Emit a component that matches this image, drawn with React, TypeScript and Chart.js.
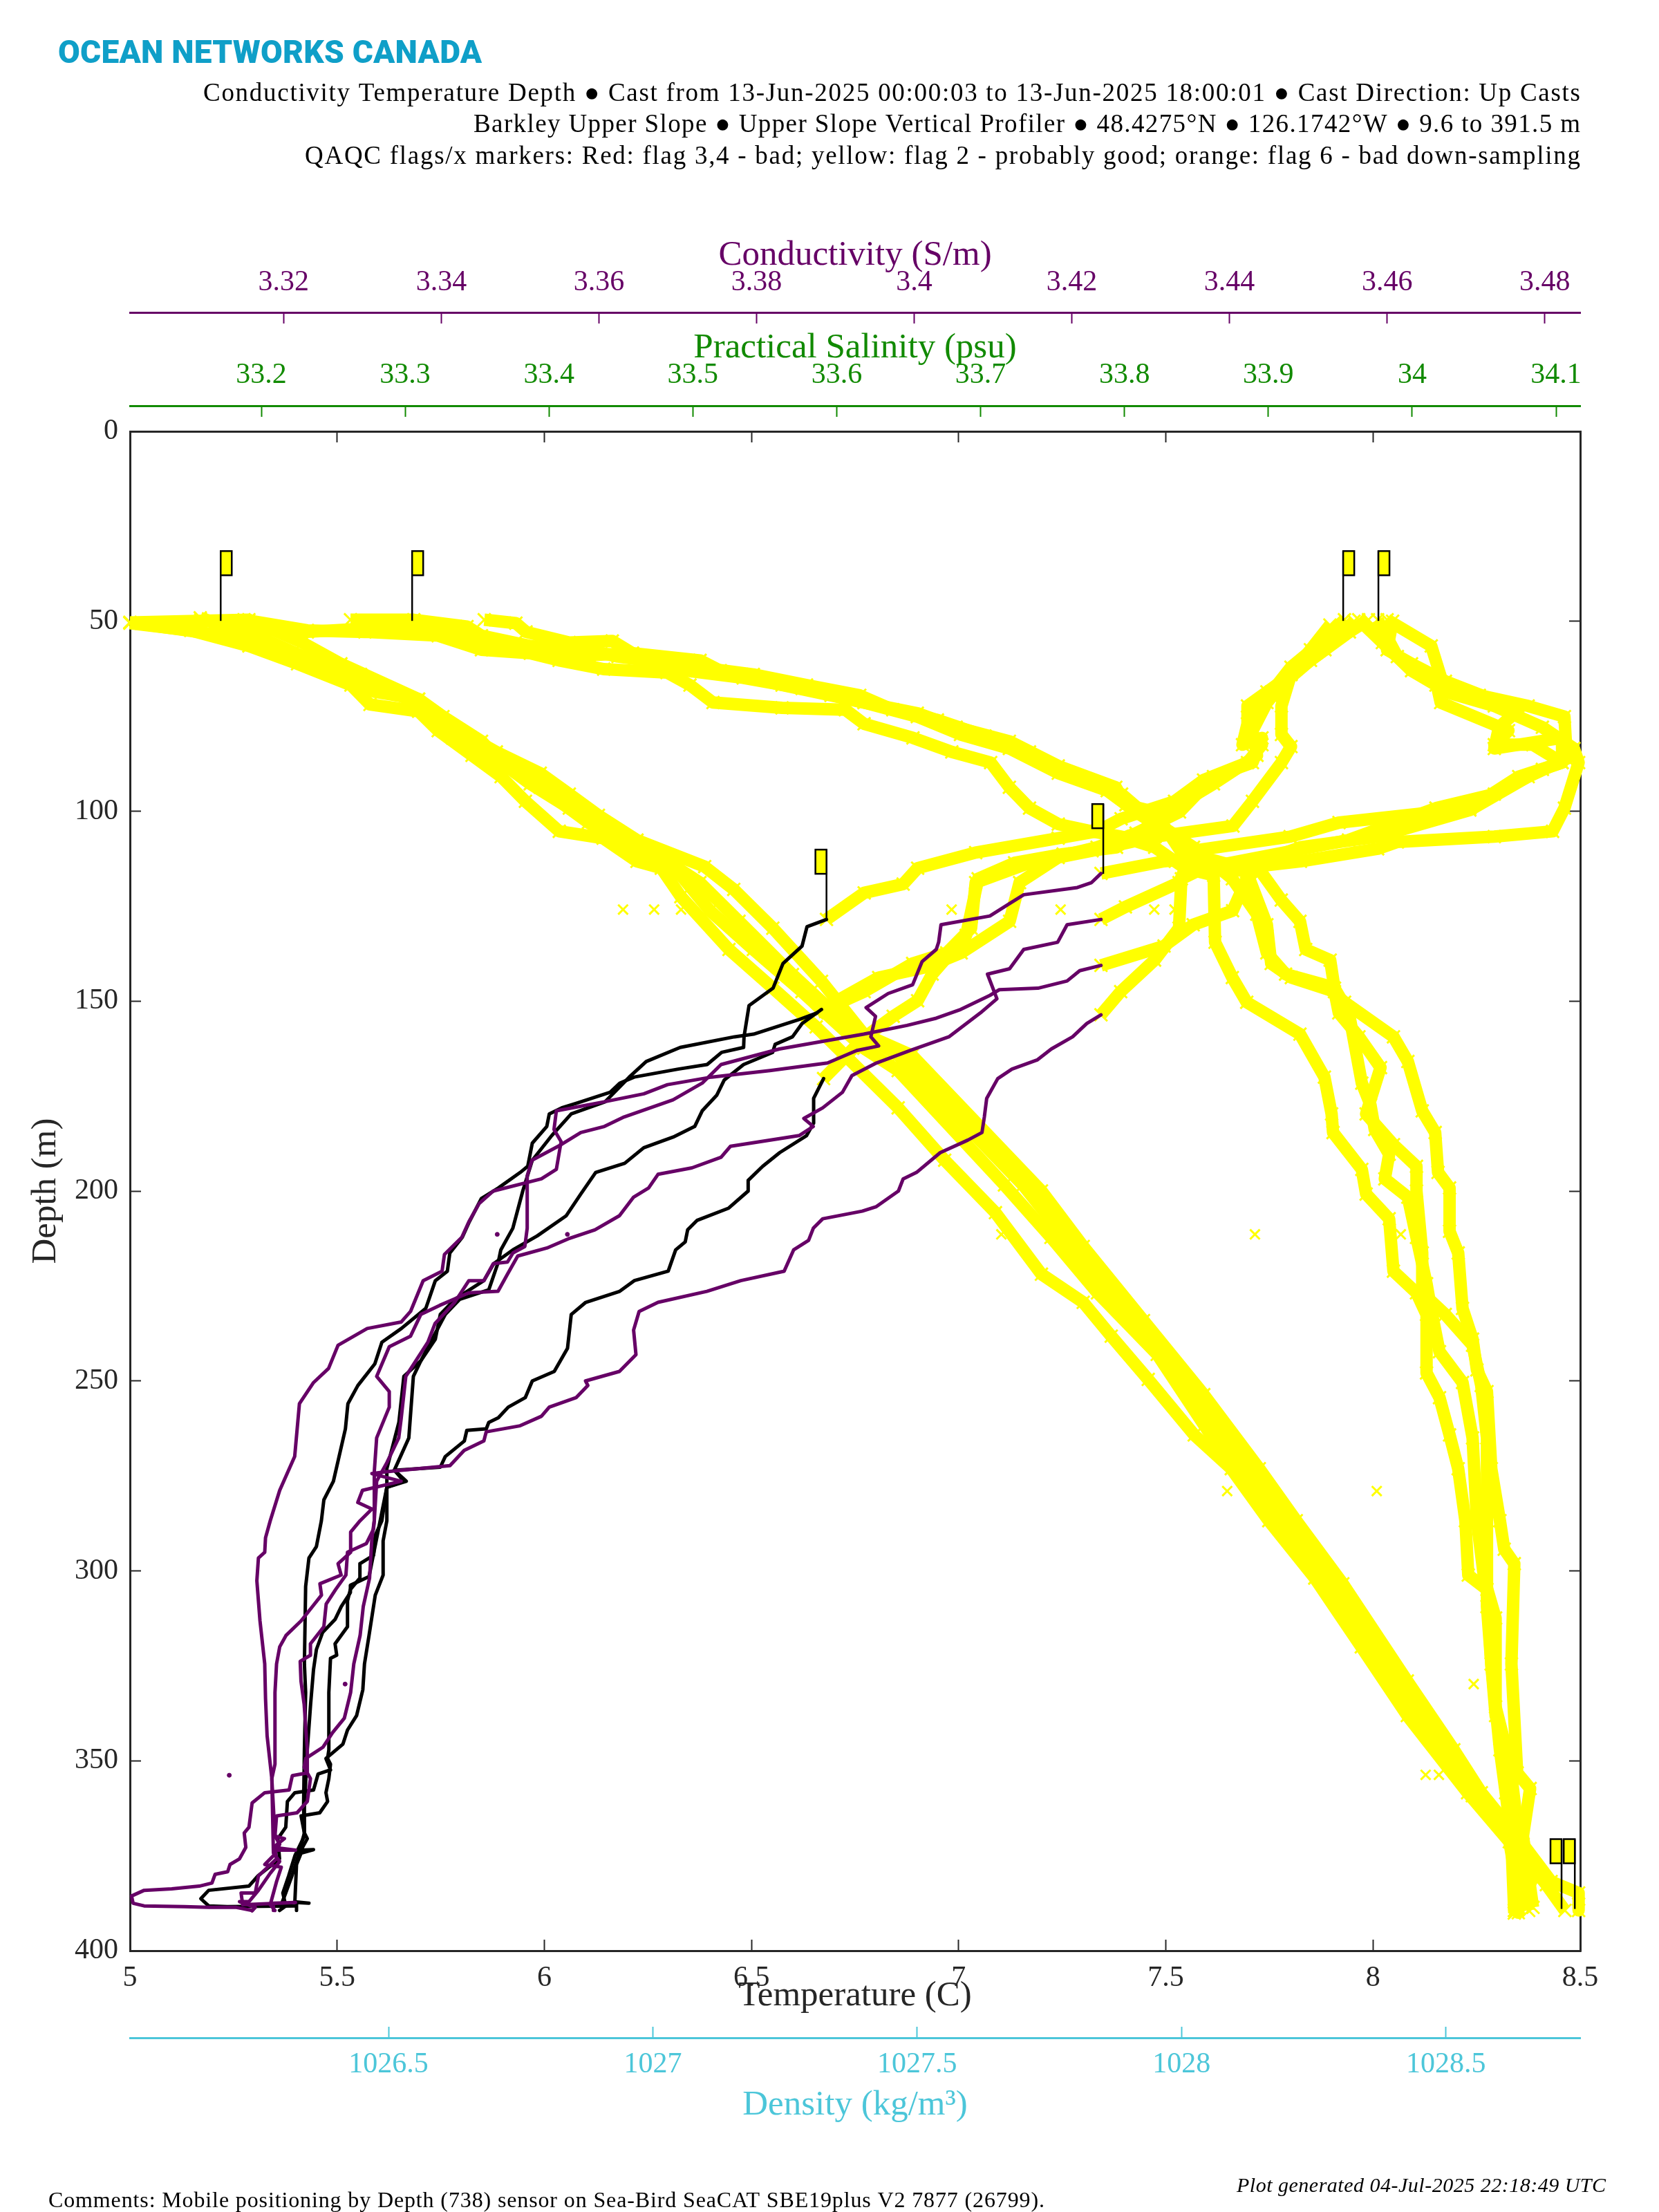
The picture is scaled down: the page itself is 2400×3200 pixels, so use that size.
import React, { useEffect, useRef } from "react";
import { Chart, registerables } from "chart.js";

Chart.register(...registerables);

// tick labels
const tempTicks = [5, 5.5, 6, 6.5, 7, 7.5, 8, 8.5];
const depthTicks = [0, 50, 100, 150, 200, 250, 300, 350, 400];
const condTicks = [3.32, 3.34, 3.36, 3.38, 3.4, 3.42, 3.44, 3.46, 3.48];
const salTicks = [33.2, 33.3, 33.4, 33.5, 33.6, 33.7, 33.8, 33.9, 34, 34.1];
const densTicks = [1026.5, 1027, 1027.5, 1028, 1028.5];

// [density kg/m3, depth m], all flagged
const dens1 = [[1026.011,50.5],[1026.126,52.4],[1026.236,56.5],[1026.328,61.2],[1026.429,66.8],[1026.465,71.9],[1026.557,73.7],[1026.594,78.8],[1026.658,85.3],[1026.713,90.9],[1026.759,97.4],[1026.823,105.3],[1026.906,107.1],[1026.97,113.2],[1027.016,115],[1027.053,122.5],[1027.144,136.4],[1027.227,146.6],[1027.309,156.8],[1027.464,178.1],[1027.552,191.9],[1027.648,205.7],[1027.735,221.9],[1027.814,229.3],[1027.867,238.2],[1027.937,249.6],[1028.024,264.2],[1028.094,273.1],[1028.165,286.8],[1028.252,301.9],[1028.34,320],[1028.427,338.1],[1028.541,358.4],[1028.62,371.3],[1028.637,384.8],[1028.637,390]];
const dens2 = [[1026.011,50.3],[1026.236,54.7],[1026.337,60.3],[1026.42,64],[1026.475,68.6],[1026.557,70.5],[1026.603,75.1],[1026.676,81.6],[1026.713,87.2],[1026.787,93.7],[1026.878,103],[1026.915,105.8],[1026.979,110.4],[1027.053,116.9],[1027.108,126.2],[1027.19,136.4],[1027.282,147.5],[1027.399,162.4],[1027.464,168.3],[1027.665,198.4],[1027.753,212.2],[1027.841,226.8],[1027.954,243],[1028.059,265],[1028.13,278],[1028.182,286.8],[1028.278,301.9],[1028.383,324.5],[1028.48,344.9],[1028.55,359.2],[1028.629,372],[1028.69,382.6],[1028.725,389.4]];
const dens3 = [[1026.011,50.3],[1026.236,49.6],[1026.337,55.6],[1026.41,61.2],[1026.557,70.5],[1026.621,77.9],[1026.704,84.4],[1026.787,90],[1026.842,95.5],[1026.897,101.1],[1026.97,107.6],[1027.098,114.6],[1027.153,120.6],[1027.227,130.8],[1027.319,144.8],[1027.399,158.7],[1027.49,164.3],[1027.735,200],[1027.814,214.6],[1027.928,234.1],[1028.042,253.6],[1028.147,273.1],[1028.217,286.8],[1028.305,303.4],[1028.427,329],[1028.515,347.1],[1028.567,358.4],[1028.646,372],[1028.699,381.8],[1028.751,384.8],[1028.751,389.4]];
const dens4 = [[1026.144,49.1],[1026.264,54.7],[1026.355,60.3],[1026.447,64],[1026.548,71.4],[1026.621,80.7],[1026.695,85.3],[1026.768,92.8],[1026.842,99.2],[1026.924,106.7],[1027.016,112.2],[1027.089,118.8],[1027.163,129],[1027.264,143],[1027.364,155.9],[1027.464,164.3],[1027.7,198.4],[1027.788,213.8],[1027.884,230.9],[1027.989,247.1],[1028.094,268.3],[1028.165,281.3],[1028.235,294.3],[1028.34,315.5],[1028.454,338.1],[1028.541,354.7],[1028.62,369],[1028.672,378.8],[1028.637,388.6]];

// [salinity psu, depth m], all flagged
const sal1 = [[33.188,49.6],[33.232,52.4],[33.272,52.8],[33.323,53.8],[33.353,57.5],[33.387,58.4],[33.407,60.3],[33.438,62.6],[33.482,63.5],[33.498,66.8],[33.514,71.4],[33.562,72.8],[33.606,73.3],[33.619,77],[33.653,80.7],[33.68,84.4],[33.707,87.2],[33.72,93.7],[33.734,99.2],[33.754,103.4],[33.777,105.3],[33.798,106.7],[33.821,109.5],[33.842,115],[33.862,116.9],[33.863,134.5],[33.875,143.8],[33.885,150.3],[33.922,158.7],[33.939,170],[33.944,179.7],[33.945,184.6],[33.965,194.3],[33.968,200.8],[33.984,207.3],[33.987,221.1],[34.003,226.8],[34.01,232.5],[34.01,247.9],[34.019,254.4],[34.026,264.2],[34.032,273.1],[34.037,286.8],[34.039,301.1],[34.052,304.9],[34.055,324.5],[34.058,338.1],[34.065,347.1],[34.068,362.2],[34.071,390.1]];
const sal2 = [[33.262,49.6],[33.306,49.6],[33.343,51.4],[33.353,53.8],[33.387,56.5],[33.428,58.9],[33.458,58.4],[33.505,60.3],[33.519,63],[33.562,66.8],[33.596,69.5],[33.619,71.4],[33.656,74.2],[33.683,77.9],[33.72,81.6],[33.754,88.1],[33.794,93.7],[33.801,98.3],[33.821,100.2],[33.842,112.2],[33.885,116],[33.899,129.9],[33.902,140.1],[33.916,143.8],[33.946,147.5],[33.949,153.1],[33.963,159.4],[33.978,167.5],[33.968,179.7],[33.987,187.8],[34.003,193.5],[34.003,200],[34.007,216.3],[34.007,226.8],[34.023,232.5],[34.042,240.6],[34.048,251.2],[34.052,265],[34.052,286.8],[34.052,309.4],[34.055,324.5],[34.061,347.1],[34.065,358.4],[34.071,377.3],[34.071,389.4]];
const sal3 = [[33.355,49.6],[33.377,50.5],[33.384,52.8],[33.414,55.6],[33.444,55.2],[33.458,58.4],[33.495,63],[33.535,64.9],[33.576,67.7],[33.619,71.4],[33.656,75.1],[33.686,79.8],[33.72,83.5],[33.754,90],[33.788,94.6],[33.808,100.2],[33.835,106.7],[33.855,114.1],[33.895,116],[33.909,123.4],[33.922,129],[33.926,136.4],[33.943,139.2],[33.946,146.6],[33.956,153.1],[33.965,171.6],[33.971,177.3],[33.974,183.8],[33.984,190.3],[33.981,196.8],[33.997,201.6],[34.003,212.2],[34.01,224.4],[34.013,230.9],[34.019,242.3],[34.035,250.4],[34.042,265],[34.045,286.8],[34.05,301.9],[34.058,312.4],[34.058,335.8],[34.068,350.9],[34.074,369.8],[34.081,389.4]];
const sal4 = [[33.158,49.6],[33.192,51.9],[33.232,52.8],[33.272,51.9],[33.326,52.4],[33.35,54.7],[33.387,57],[33.414,56.5],[33.448,59.3],[33.495,61.7],[33.542,64],[33.579,66.8],[33.616,69.5],[33.639,73.3],[33.67,76],[33.703,80.2],[33.734,84.4],[33.767,90.9],[33.798,95.5],[33.818,102],[33.848,109.5],[33.875,117.8],[33.892,127.1],[33.899,137.3],[33.912,142.9],[33.939,145.7],[33.953,150.3],[33.987,159.4],[33.997,165.9],[34.007,178.9],[34.016,184.6],[34.018,195.1],[34.026,199.2],[34.026,210.6],[34.032,216.3],[34.035,230.9],[34.042,239],[34.045,247.1],[34.052,252.8],[34.055,273.1],[34.061,286.8],[34.064,294.3],[34.071,298.1],[34.069,324.5],[34.073,353.2],[34.082,357.3],[34.077,369.8],[34.084,388.6]];

// [conductivity S/m, depth m], flagged upper part of each cast
const cond1Flag = [[3.4237,116.4],[3.4317,113.2],[3.4367,112.2],[3.4416,115],[3.449,113.2],[3.4588,109.9],[3.4613,108.1],[3.4736,106.7],[3.481,105.3],[3.4825,99.2],[3.4843,87.2],[3.4837,83.5],[3.4797,77.9],[3.4736,72.3],[3.4674,68.6],[3.4656,56.5],[3.46,49.6]];
const cond2Flag = [[3.4237,128.5],[3.4268,125.2],[3.4336,118.8],[3.4354,110.4],[3.4477,106.7],[3.4539,103],[3.4705,99.2],[3.4767,90.9],[3.4822,87.2],[3.4822,80.7],[3.4736,83.5],[3.4742,77.9],[3.4767,73.3],[3.4674,65.8],[3.4613,59.3],[3.4588,49.6]];
const cond3Flag = [[3.4237,140.6],[3.4317,135.5],[3.4354,129.9],[3.4404,126.2],[3.4422,117.8],[3.4428,114.1],[3.449,109.5],[3.4588,106.7],[3.4705,99.7],[3.4779,90.9],[3.4828,86.2],[3.4825,75.1],[3.4779,72.3],[3.4717,69.5],[3.4662,66.8],[3.4631,63],[3.4594,55.6],[3.4564,49.6]];
const cond4Flag = [[3.4237,153.6],[3.4262,147.5],[3.4305,139.2],[3.4336,130.8],[3.4339,117.8],[3.4367,115],[3.4551,107.6],[3.4662,99.2],[3.4736,95.5],[3.4797,89],[3.4822,87.2],[3.4785,82.5],[3.4736,82.5],[3.4754,78.8],[3.4668,71.4],[3.4662,65.8],[3.4631,61.2],[3.46,57.5],[3.4607,50]];

// conductivity, good part of each cast
const cond1 = [[3.4237,116.4],[3.4225,118.8],[3.4207,120.1],[3.4139,122],[3.4121,124.3],[3.4096,127.6],[3.4034,129.9],[3.4031,134.5],[3.4028,136.4],[3.401,139.6],[3.3998,145.7],[3.3967,148],[3.3939,151.7],[3.3951,154],[3.3945,159.4],[3.3955,161.8],[3.3927,163],[3.389,166.3],[3.3817,168.3],[3.3743,170],[3.3687,172],[3.3657,174.4],[3.3607,176.5],[3.3546,178.9],[3.3543,183.8],[3.3552,187],[3.3546,194.3],[3.3527,196.8],[3.3466,200],[3.3448,203.3],[3.3435,208.1],[3.3426,212.2],[3.3404,216.7],[3.3401,221.1],[3.3377,223.6],[3.3361,231.7],[3.3349,234.5],[3.3306,236.2],[3.3269,240.6],[3.3257,246.7],[3.3238,250.4],[3.322,256],[3.3214,269.9],[3.3195,278.8],[3.3183,286.8],[3.3177,291.3],[3.3176,295.1],[3.3168,296.6],[3.3166,302.6],[3.317,313.2],[3.3176,324.5],[3.3177,333.6],[3.3179,343.4],[3.3185,354.7],[3.3189,369.8],[3.3201,370.5],[3.3187,372.8],[3.3215,373.5],[3.3189,373.5],[3.3191,375.8],[3.3168,380.3],[3.3164,384.8],[3.3146,384.8],[3.3148,387.9],[3.3215,387.3],[3.3187,387.5],[3.3187,389.4]];
const cond2 = [[3.4237,128.5],[3.4194,129.9],[3.4182,134.5],[3.4139,136.4],[3.4121,141.5],[3.4093,142.9],[3.4105,149.4],[3.4084,153.1],[3.4044,159.4],[3.3995,163],[3.3952,166.3],[3.3921,169.6],[3.3909,174],[3.3884,178.1],[3.386,180.9],[3.3872,183],[3.3854,185.4],[3.3829,186.2],[3.3767,188.2],[3.3755,191.1],[3.3718,193.9],[3.3675,195.6],[3.3663,199.2],[3.3644,201.6],[3.3626,206.5],[3.3595,210.2],[3.3561,212.6],[3.3534,215],[3.3497,217.1],[3.3484,221.9],[3.3472,226.4],[3.3435,226.8],[3.3398,230.1],[3.3374,232.5],[3.3361,238.2],[3.3334,241],[3.3318,248.8],[3.3334,252.8],[3.3334,256.9],[3.3318,265],[3.3315,273.9],[3.3315,286.8],[3.3312,291.3],[3.3309,301.9],[3.3301,309.4],[3.3297,317],[3.3289,324.5],[3.3285,332],[3.3277,338.8],[3.3262,342.6],[3.325,346.4],[3.3228,349.4],[3.3226,351.7],[3.3234,354.7],[3.323,360.7],[3.3217,363.7],[3.3191,364.5],[3.3189,369.8],[3.3195,372],[3.3187,375],[3.3176,377.3],[3.3197,378],[3.3191,381.8],[3.3183,387.9],[3.3189,389.4]];
const cond3 = [[3.4237,140.6],[3.421,142],[3.4194,144.7],[3.4157,146.6],[3.4108,147],[3.4096,148.5],[3.4059,152.2],[3.4028,154.5],[3.3991,156.4],[3.3936,158.7],[3.3829,162.6],[3.3755,166.7],[3.3731,171.6],[3.3694,176],[3.3632,180.5],[3.3607,183],[3.3577,184.6],[3.3552,187.8],[3.3515,191.9],[3.3509,196],[3.3509,209.8],[3.3506,214.6],[3.3491,216.3],[3.3484,218.7],[3.3466,219.1],[3.3454,223.6],[3.3435,223.6],[3.3417,229.3],[3.3392,234.9],[3.3383,239.8],[3.3355,248.8],[3.3349,260.1],[3.3346,265],[3.3331,271.5],[3.3318,276.4],[3.3315,286.8],[3.3314,289],[3.3305,292.8],[3.3281,295.1],[3.3279,301.1],[3.3266,304.9],[3.3254,308.7],[3.3251,314.7],[3.3234,319.2],[3.3234,322.2],[3.3221,323.8],[3.3222,329],[3.3226,335.1],[3.323,347.1],[3.323,353.2],[3.3211,353.9],[3.3207,357.7],[3.3176,358.4],[3.316,361.1],[3.3156,367.5],[3.315,369],[3.3152,372.8],[3.3144,375.8],[3.3132,377.3],[3.3129,379.2],[3.3113,379.9],[3.3109,382.2],[3.3093,383],[3.3058,383.7],[3.3023,384.1],[3.3007,385.6],[3.3009,387.5],[3.3023,388.2],[3.3074,388.4],[3.3105,388.6],[3.314,388.6],[3.316,389.4]];
const cond4 = [[3.4237,153.6],[3.4219,155.9],[3.4201,159.4],[3.4174,162.6],[3.4156,165.5],[3.4124,167.9],[3.4106,170.4],[3.4092,175.6],[3.4089,180.5],[3.4086,184.6],[3.4068,186.6],[3.4033,189.9],[3.4003,195.1],[3.3986,196.8],[3.398,200],[3.3952,204.1],[3.3934,205.3],[3.3884,207.3],[3.3872,209.8],[3.3866,213],[3.3847,215.5],[3.3835,221.1],[3.378,223.6],[3.3737,226.4],[3.3675,229.3],[3.3651,231.7],[3.3644,236.6],[3.3647,243.1],[3.3626,247.5],[3.3583,250],[3.3586,251.2],[3.3571,254.4],[3.3537,256.9],[3.3527,259.3],[3.35,261.8],[3.3457,263.4],[3.3454,265.8],[3.3429,268.3],[3.3411,272.3],[3.3331,273.9],[3.3312,274.4],[3.3349,276.4],[3.33,278.8],[3.3294,282],[3.3312,283.7],[3.3297,286.8],[3.3285,289.8],[3.3285,295.1],[3.3269,298.1],[3.3273,301.1],[3.3246,303.4],[3.3248,306.4],[3.3238,309],[3.3222,313.2],[3.3203,317],[3.3195,320],[3.3191,324.5],[3.3189,332],[3.3189,350.9],[3.3185,354.7],[3.3187,374.3],[3.3195,376.5],[3.3183,379.6],[3.3168,384.1],[3.3156,387.1],[3.3144,387.1],[3.3164,388.6],[3.316,389.5]];

// [temperature C, depth m], flagged upper part of each cast
const temp1Flag = [[6.681,128.5],[6.772,121.5],[6.866,119.2],[6.901,115],[7.041,110.9],[7.24,107.1],[7.334,105.3],[7.392,102],[7.521,97.4],[7.591,91.8],[7.697,87.2],[7.732,82.5],[7.697,80.7],[7.709,73.3],[7.755,68.6],[7.802,62.1],[7.884,54.7],[7.931,49.6]];
const temp2Flag = [[6.658,153.1],[6.772,147.5],[6.889,140.1],[6.971,137.3],[7.03,130.8],[7.041,118.8],[7.158,114.1],[7.334,109.5],[7.428,105.8],[7.533,100.2],[7.615,90.9],[7.709,87.2],[7.732,80.7],[7.685,82.5],[7.697,77],[7.697,72.3],[7.744,68.6],[7.802,64],[7.849,57.5],[7.896,51]];
const temp3Flag = [[6.669,152.2],[6.807,143.8],[6.924,141],[7.006,137.3],[7.123,129],[7.147,118.8],[7.24,112.2],[7.322,110.4],[7.474,106.7],[7.662,103.9],[7.709,97.4],[7.779,87.2],[7.802,83],[7.779,79.8],[7.779,72.3],[7.802,64],[7.884,57.5],[7.954,50]];
const temp4Flag = [[6.674,170.4],[6.772,159.6],[6.842,154],[6.901,149.9],[6.936,142.9],[7.018,132.7],[7.047,117.8],[7.135,113.6],[7.252,111.3],[7.381,109.5],[7.474,103],[7.545,97.4],[7.615,92.8],[7.72,85.3],[7.709,78.8],[7.744,71.4],[7.779,66.8],[7.849,60.3],[7.943,52.8],[7.989,49.6]];

// temperature, good part of each cast
const temp1 = [[6.681,128.5],[6.634,130.4],[6.622,135.5],[6.576,140.1],[6.552,146.6],[6.494,151.2],[6.482,159.4],[6.481,162.2],[6.428,163.5],[6.393,166.7],[6.323,167.9],[6.217,170],[6.182,171.6],[6.159,174],[6.077,176.9],[6.042,178.1],[6.012,179.7],[6.006,183],[5.971,187.4],[5.96,193.5],[5.942,195.1],[5.889,199.2],[5.848,202],[5.819,208.1],[5.802,212.2],[5.772,216.3],[5.766,221.1],[5.737,223.6],[5.714,230.9],[5.655,236.2],[5.608,239.8],[5.591,245.5],[5.55,251.2],[5.526,256],[5.52,262.6],[5.503,270.7],[5.491,276.4],[5.468,281.3],[5.462,286.8],[5.45,293.6],[5.432,296.6],[5.424,304.1],[5.421,324.5],[5.424,332],[5.421,347.1],[5.419,362.2],[5.421,369],[5.428,370.5],[5.413,373.5],[5.443,373.4],[5.413,374.3],[5.402,377.3],[5.398,387.1],[5.432,387.5],[5.402,387.3],[5.402,389.4]];
const temp2 = [[6.658,153.1],[6.611,155],[6.505,158.7],[6.459,159.4],[6.328,162.2],[6.246,165.9],[6.205,170],[6.147,176.5],[6.065,179.7],[6.018,185.4],[5.971,191.9],[5.948,200],[5.924,209.8],[5.895,215.5],[5.889,218.7],[5.866,226],[5.796,228.5],[5.761,232.5],[5.737,237.4],[5.702,244.7],[5.684,248.8],[5.673,265],[5.638,273.5],[5.667,276.4],[5.62,278],[5.608,286.8],[5.592,290.6],[5.588,295.9],[5.555,298.1],[5.555,301.9],[5.532,304.9],[5.525,307.9],[5.525,314.7],[5.495,319.2],[5.499,322.2],[5.484,323],[5.48,332],[5.48,347.1],[5.477,349.4],[5.484,350.9],[5.48,354.7],[5.473,358.4],[5.477,360.7],[5.458,363.7],[5.413,364.5],[5.421,369],[5.406,375],[5.391,380.3],[5.376,384.8],[5.365,387.9]];
const temp3 = [[6.669,152.2],[6.622,155.9],[6.599,159.4],[6.557,161.4],[6.551,163.5],[6.481,166.7],[6.434,170.8],[6.416,174.8],[6.381,178.9],[6.363,183],[6.311,185.8],[6.24,188.6],[6.194,192.7],[6.124,195.1],[6.088,200.8],[6.053,206.5],[5.983,211.8],[5.924,215.5],[5.878,219.1],[5.854,223.6],[5.784,228.5],[5.749,232.5],[5.737,239],[5.702,244.7],[5.661,248.8],[5.649,260.9],[5.62,273.1],[5.62,286.8],[5.611,292.1],[5.611,301.1],[5.592,306.4],[5.577,317],[5.566,324.5],[5.562,331.3],[5.547,338.1],[5.525,341.9],[5.514,345.6],[5.473,349.4],[5.484,352.4],[5.454,353.5],[5.443,357.7],[5.398,358.4],[5.38,360.7],[5.376,367.5],[5.357,370.5],[5.361,375.8],[5.309,380.3],[5.287,383],[5.19,384.1],[5.171,386.3],[5.19,388.2],[5.235,388.4],[5.398,388.2]];
const temp4 = [[6.674,170.4],[6.65,175.6],[6.65,182.1],[6.633,185.4],[6.568,189.9],[6.527,193.5],[6.492,197.2],[6.492,200],[6.445,204.5],[6.369,207.7],[6.346,210.2],[6.34,213.4],[6.317,215.5],[6.299,221.1],[6.217,223.6],[6.182,226.4],[6.1,229.3],[6.065,232.5],[6.056,241.4],[6.024,247.5],[5.971,250],[5.954,254.4],[5.913,256.9],[5.889,259.7],[5.866,260.9],[5.86,262.6],[5.813,263],[5.807,265.8],[5.761,269.9],[5.749,272.7],[5.638,273.5],[5.661,276.4],[5.62,278],[5.577,301.5],[5.532,303.8],[5.532,305.7],[5.51,309.4],[5.495,312.8],[5.465,316.2],[5.45,320.7],[5.443,326],[5.436,335.1],[5.428,347.1],[5.421,362.2],[5.421,369.8],[5.398,375],[5.383,380.3],[5.369,384.8],[5.376,388.2],[5.361,389.4]];

// lone points
const flaggedStrays = [[6.19,125.9],[6.265,125.9],[6.33,125.9],[6.983,125.9],[7.246,125.9],[7.472,125.9],[7.521,125.9],[7.103,211.4],[7.715,211.4],[8.067,211.4],[7.648,279],[8.009,279],[8.243,329.8],[8.127,353.7],[8.159,353.7]];
const condStrays = [[3.3471,211.4],[3.356,211.4],[3.3278,329.8],[3.3131,353.8]];

// flag poles: [temperature C, depth m at the foot of the pole]
const flagFeet = [[5.219,49.9],[5.681,49.9],[7.928,49.9],[8.013,49.9],[7.349,116.5],[6.681,128.5],[8.455,389],[8.487,389]];

const SERIF = "'Liberation Serif'";
const AXIS = "#262626";
const PURPLE = "#660066";
const GREEN = "#118a00";
const CYAN = "#4cc6d9";
const YELLOW = "#ffff00";

const xy = (pts: number[][]) => pts.map(([x, y]) => ({ x, y }));

const flagged = (pts: number[][], xAxisID: string) => ({
  data: xy(pts),
  xAxisID,
  yAxisID: "y",
  showLine: true,
  clip: false,
  borderColor: YELLOW,
  borderWidth: 18,
  borderJoinStyle: "round",
  borderCapStyle: "butt",
  pointStyle: "crossRot",
  pointRadius: 13,
  pointBorderColor: YELLOW,
  pointBorderWidth: 3,
});

const good = (pts: number[][], xAxisID: string, color: string) => ({
  data: xy(pts),
  xAxisID,
  yAxisID: "y",
  showLine: true,
  clip: false,
  borderColor: color,
  borderWidth: 5,
  borderJoinStyle: "round",
  borderCapStyle: "round",
  pointRadius: 0,
});

const setTicks = (values: number[]) => (scale: any) => {
  scale.ticks = values.map((value) => ({ value }));
};

const xAxis = (
  position: string,
  weight: number,
  min: number,
  max: number,
  ticks: number[],
  color: string,
  height: number,
  padding: number,
  title?: string,
  titlePadding?: any
) => ({
  type: "linear",
  axis: "x",
  position,
  weight,
  min,
  max,
  afterBuildTicks: setTicks(ticks),
  afterFit: (scale: any) => {
    scale.height = height;
  },
  grid: { drawOnChartArea: false, drawTicks: true, tickLength: -16, tickWidth: 2, tickColor: color },
  border: { display: true, color, width: 3 },
  ticks: {
    display: padding > 0,
    color,
    padding,
    autoSkip: false,
    maxRotation: 0,
    minRotation: 0,
    font: { family: SERIF, size: 42 },
    callback: (v: any) => String(v),
  },
  title: {
    display: !!title,
    text: title,
    color,
    font: { family: SERIF, size: 51 },
    padding: titlePadding,
  },
});

const yAxis = (position: string, width: number, labels: boolean) => ({
  type: "linear",
  axis: "y",
  position,
  reverse: true,
  min: 0,
  max: 400,
  afterBuildTicks: setTicks(depthTicks),
  afterFit: (scale: any) => {
    scale.width = width;
  },
  grid: { drawOnChartArea: false, drawTicks: true, tickLength: -16, tickWidth: 2, tickColor: AXIS },
  border: { display: true, color: AXIS, width: 3 },
  ticks: {
    display: labels,
    color: AXIS,
    padding: 33,
    autoSkip: false,
    font: { family: SERIF, size: 42 },
    callback: (v: any) => String(v),
  },
  title: {
    display: labels,
    text: "Depth (m)",
    color: AXIS,
    font: { family: SERIF, size: 51 },
    padding: { top: 36, bottom: 0 },
  },
});

// stretch a line with letter spacing so it spans the same width as the original
const fitText = (ctx: any, text: string, left: number, y: number, width: number) => {
  ctx.letterSpacing = "0px";
  const w = ctx.measureText(text).width;
  ctx.letterSpacing = `${(width - w) / (text.length - 1)}px`;
  ctx.fillText(text, left, y);
  ctx.letterSpacing = "0px";
};

const pageText = {
  id: "pageText",
  afterDraw(chart: any) {
    const { ctx } = chart;
    ctx.save();
    ctx.textAlign = "left";
    ctx.textBaseline = "middle";

    ctx.fillStyle = "#0f9fc8";
    ctx.font = "900 46px Roboto";
    fitText(ctx, "OCEAN NETWORKS CANADA", 84, 79, 613);

    ctx.fillStyle = "#000";
    ctx.font = `37px ${SERIF}`;
    fitText(ctx, "Conductivity Temperature Depth \u25cf Cast from 13-Jun-2025 00:00:03 to 13-Jun-2025 18:00:01 \u25cf Cast Direction: Up Casts", 294, 136, 1992);
    fitText(ctx, "Barkley Upper Slope \u25cf Upper Slope Vertical Profiler \u25cf 48.4275\u00b0N \u25cf 126.1742\u00b0W \u25cf 9.6 to 391.5 m", 685, 181, 1601);
    fitText(ctx, "QAQC flags/x markers: Red: flag 3,4 - bad; yellow: flag 2 - probably good; orange: flag 6 - bad down-sampling", 441, 227, 1845);

    ctx.font = `32px ${SERIF}`;
    fitText(ctx, "Comments: Mobile positioning by Depth (738) sensor on Sea-Bird SeaCAT SBE19plus V2 7877 (26799).", 70, 3185, 1441);
    ctx.font = `italic 30px ${SERIF}`;
    fitText(ctx, "Plot generated 04-Jul-2025 22:18:49 UTC", 1789, 3163, 534);
    ctx.restore();
  },
};

const qaqcFlags = {
  id: "qaqcFlags",
  afterDatasetsDraw(chart: any) {
    const { ctx, scales } = chart;
    ctx.save();
    ctx.lineWidth = 2.5;
    ctx.strokeStyle = "#000";
    ctx.fillStyle = YELLOW;
    flagFeet.forEach(([t, d]) => {
      const x = scales.x.getPixelForValue(t);
      const y = scales.y.getPixelForValue(d);
      const top = y - 101;
      ctx.beginPath();
      ctx.moveTo(x, y);
      ctx.lineTo(x, top);
      ctx.stroke();
      // deep flags fly to the left of the pole
      const left = d > 100 ? x - 16 : x;
      ctx.fillRect(left, top, 16, 35);
      ctx.strokeRect(left, top, 16, 35);
    });
    ctx.restore();
  },
};

export default function App() {
  const ref = useRef<HTMLCanvasElement>(null);

  useEffect(() => {
    document.body.style.margin = "0";
    if (!ref.current) return;
    // first dataset ends up on top
    const chart = new Chart(ref.current, {
      type: "scatter",
      data: {
        datasets: [
          good(cond4, "xCond", PURPLE),
          good(cond3, "xCond", PURPLE),
          good(cond2, "xCond", PURPLE),
          good(cond1, "xCond", PURPLE),
          {
            data: xy(condStrays),
            xAxisID: "xCond",
            yAxisID: "y",
            pointRadius: 3,
            pointBackgroundColor: PURPLE,
            pointBorderColor: PURPLE,
          },
          good(temp4, "x", "#000"),
          good(temp3, "x", "#000"),
          good(temp2, "x", "#000"),
          good(temp1, "x", "#000"),
          {
            data: xy(flaggedStrays),
            xAxisID: "x",
            yAxisID: "y",
            pointStyle: "crossRot",
            pointRadius: 10,
            pointBorderColor: YELLOW,
            pointBorderWidth: 3,
          },
          flagged(temp1Flag, "x"),
          flagged(temp2Flag, "x"),
          flagged(temp3Flag, "x"),
          flagged(temp4Flag, "x"),
          flagged(cond1Flag, "xCond"),
          flagged(cond2Flag, "xCond"),
          flagged(cond3Flag, "xCond"),
          flagged(cond4Flag, "xCond"),
          flagged(sal1, "xSal"),
          flagged(sal2, "xSal"),
          flagged(sal3, "xSal"),
          flagged(sal4, "xSal"),
          flagged(dens1, "xDens"),
          flagged(dens2, "xDens"),
          flagged(dens3, "xDens"),
          flagged(dens4, "xDens"),
        ],
      } as any,
      options: {
        responsive: false,
        animation: false,
        devicePixelRatio: 1,
        layout: { padding: { top: 320, bottom: 102, left: 0, right: 0 } },
        plugins: { legend: { display: false }, tooltip: { enabled: false } },
        scales: {
          x: xAxis("bottom", 1, 5, 8.5, tempTicks, AXIS, 126, 31, "Temperature (C)", { top: 0, bottom: 30 }),
          xDens: xAxis("bottom", 2, 1026.011, 1028.754, densTicks, CYAN, 150, 30, "Density (kg/m\u00b3)", { top: 0, bottom: 22 }),
          xMirror: xAxis("top", 1, 5, 8.5, tempTicks, AXIS, 37, 0),
          xSal: xAxis("top", 2, 33.1087, 34.1168, salTicks, GREEN, 135, 35, "Practical Salinity (psu)", { top: 21, bottom: 0 }),
          xCond: xAxis("top", 3, 3.3005, 3.4845, condTicks, PURPLE, 132, 34, "Conductivity (S/m)", { top: 19, bottom: 0 }),
          y: yAxis("left", 188, true),
          yMirror: yAxis("right", 114, false),
        },
      } as any,
      plugins: [qaqcFlags, pageText],
    });
    return () => chart.destroy();
  }, []);

  return <canvas ref={ref} width={2400} height={3200} style={{ display: "block" }} />;
}
